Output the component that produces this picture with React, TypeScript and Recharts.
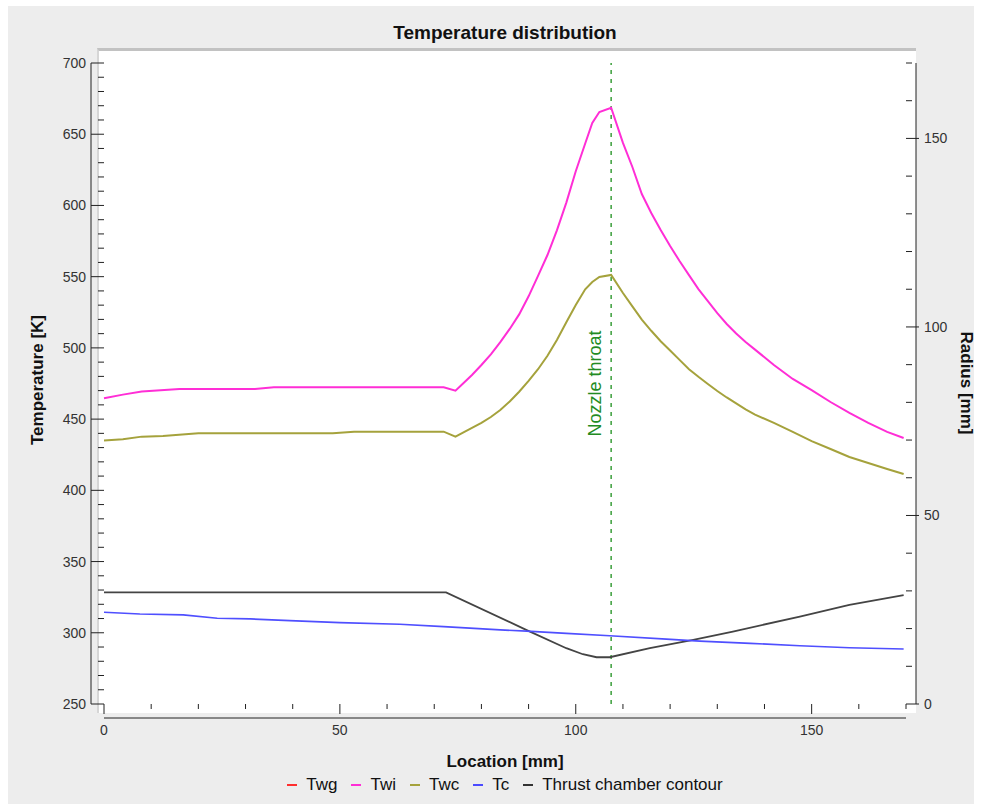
import React from 'react';
import { LineChart, Line, XAxis, YAxis, ReferenceLine } from 'recharts';

// wall temperatures on the left axis [K]
const twiX = [0, 4, 8, 16, 32, 36, 72, 74.5, 76, 78, 80, 82, 84, 86, 88, 90, 92, 94, 96, 98, 100, 102, 103.5, 105, 107.5, 110, 112, 114, 116, 118, 120, 122, 124, 126, 128, 130, 132, 134, 136, 138, 142, 146, 150, 154, 158, 162, 166, 169.5];
const twiT = [464.6, 467.2, 469.3, 471.1, 471.1, 472.3, 472.3, 470.0, 474.7, 481.0, 488.0, 495.5, 504.0, 513.3, 523.5, 536.2, 550.5, 565.2, 582.5, 602.0, 624.0, 643.5, 657.9, 665.6, 668.6, 643.9, 627.0, 608.0, 594.7, 582.8, 571.5, 561.0, 551.1, 541.3, 532.8, 524.4, 516.8, 510.1, 504.1, 498.8, 488.0, 478.2, 470.4, 462.0, 454.3, 447.3, 441.0, 436.7];

const twcX = [0, 4, 8, 12.5, 20, 48.5, 53, 72, 74.5, 76, 78, 80, 82, 84, 86, 88, 90, 92, 94, 96, 98, 100, 102, 103.5, 105, 107.5, 110, 112, 114, 116, 118, 120, 122, 124, 126, 128, 130, 132, 134, 136, 138, 142, 146, 150, 154, 158, 162, 166, 169.5];
const twcT = [434.9, 435.9, 437.7, 438.2, 440.0, 440.0, 441.2, 441.2, 437.7, 440.3, 443.8, 447.3, 451.5, 456.4, 462.4, 469.2, 476.9, 485.0, 494.5, 505.5, 518.0, 530.1, 541.1, 546.3, 549.8, 551.2, 538.5, 529.1, 519.9, 512.0, 504.7, 498.2, 491.6, 485.0, 479.7, 474.7, 469.7, 465.2, 461.0, 456.8, 453.2, 447.3, 441.0, 434.6, 429.0, 423.4, 419.2, 415.0, 411.5];

const tcX = [0, 7.6, 16.8, 24, 31, 39.4, 50, 62.7, 72, 84, 89.6, 98, 107.2, 119.2, 126.3, 137, 147.5, 158, 169.5];
const tcT = [314.4, 313.2, 312.5, 310.2, 309.7, 308.5, 307.1, 306.0, 304.3, 302.0, 301.2, 299.6, 297.9, 295.6, 294.2, 292.6, 290.9, 289.5, 288.6];

// thrust chamber contour on the right axis [mm]
const contourX = [0, 72.5, 89.6, 98, 101.5, 104.4, 107.2, 115.7, 124.9, 133.3, 147.5, 158, 169.5];
const contourR = [29.6, 29.6, 19.6, 14.8, 13.2, 12.4, 12.4, 14.8, 17.0, 19.2, 23.2, 26.3, 28.9];

const throatX = 107.5;

const tempTicks = [250, 260, 270, 280, 290, 300, 310, 320, 330, 340, 350, 360, 370, 380, 390, 400, 410, 420, 430, 440, 450, 460, 470, 480, 490, 500, 510, 520, 530, 540, 550, 560, 570, 580, 590, 600, 610, 620, 630, 640, 650, 660, 670, 680, 690, 700];
const radiusTicks = [0, 10, 20, 30, 40, 50, 60, 70, 80, 90, 100, 110, 120, 130, 140, 150, 160, 170];
const locTicks = [0, 10, 20, 30, 40, 50, 60, 70, 80, 90, 100, 110, 120, 130, 140, 150, 160, 170];

const legendItems = [
  { name: 'Twg', color: '#ff2e2e' },
  { name: 'Twi', color: '#ff2ed6' },
  { name: 'Twc', color: '#a5a23c' },
  { name: 'Tc', color: '#4b4bff' },
  { name: 'Thrust chamber contour', color: '#333333' },
];

const toPoints = (xs: number[], ys: number[]) => xs.map((x, i) => ({ x, v: ys[i] }));

const FONT = '"Liberation Sans", Arial, Helvetica, sans-serif';

const LeftTick = (p: any) => {
  const major = p.payload.value % 50 === 0;
  return (
    <g>
      <line x1={p.x} x2={p.x - (major ? 13 : 6)} y1={p.y} y2={p.y} stroke="#222" />
      {major && (
        <text x={p.x - 18} y={p.y + 5} textAnchor="end" fontSize={14} fill="#333" fontFamily={FONT}>
          {p.payload.value}
        </text>
      )}
    </g>
  );
};

const RightTick = (p: any) => {
  const major = p.payload.value % 50 === 0;
  return (
    <g>
      <line x1={p.x} x2={p.x + (major ? 13 : 6)} y1={p.y} y2={p.y} stroke="#222" />
      {major && (
        <text x={p.x + 18} y={p.y + 5} textAnchor="start" fontSize={14} fill="#333" fontFamily={FONT}>
          {p.payload.value}
        </text>
      )}
    </g>
  );
};

const BottomTick = (p: any) => {
  const major = p.payload.value % 50 === 0;
  return (
    <g>
      <line x1={p.x} x2={p.x} y1={p.y} y2={p.y + (major ? 10 : 5)} stroke="#222" />
      {major && (
        <text x={p.x} y={p.y + 31} textAnchor="middle" fontSize={14} fill="#333" fontFamily={FONT}>
          {p.payload.value}
        </text>
      )}
    </g>
  );
};

const ThroatLabel = (p: any) => {
  const vb = p.viewBox;
  const cx = vb.x - 10;
  const cy = vb.y + vb.height / 2;
  return (
    <text
      x={cx}
      y={cy}
      transform={`rotate(-90 ${cx} ${cy})`}
      textAnchor="middle"
      fontSize={18}
      fill="#228b22"
      fontFamily={FONT}
    >
      Nozzle throat
    </text>
  );
};

export default function App() {
  return (
    <div style={{ position: 'absolute', left: 0, top: 0, width: 982, height: 810, background: '#fff', fontFamily: FONT }}>
      <style>{`
        .ax-left { transform: translate(-13px, 0px); }
        .ax-right { transform: translate(10px, 0px); }
        .ax-bottom { transform: translate(0px, 14px); }
      `}</style>
      <div style={{ position: 'absolute', left: 8, top: 6, width: 966, height: 798, background: '#ededed' }} />
      <div
        style={{
          position: 'absolute',
          left: 97,
          top: 48,
          width: 817,
          height: 662,
          background: '#fff',
          borderTop: '3px solid #c2c2c2',
          borderLeft: '2px solid #d6d6d6',
        }}
      />
      <div
        style={{
          position: 'absolute',
          left: 0,
          top: 22,
          width: 1010,
          textAlign: 'center',
          fontWeight: 'bold',
          fontSize: 19,
          color: '#111',
        }}
      >
        Temperature distribution
      </div>
      <div style={{ position: 'absolute', left: 0, top: 0 }}>
        <LineChart width={982} height={810} margin={{ top: 63, left: 44, right: 26, bottom: 76 }}>
          <XAxis
            dataKey="x"
            type="number"
            domain={[0, 170]}
            ticks={locTicks}
            interval={0}
            height={30}
            className="ax-bottom"
            stroke="#222"
            tickSize={0}
            tickMargin={0}
            tickLine={false}
            tick={(p: any) => <BottomTick {...p} />}
          />
          <YAxis
            yAxisId="l"
            type="number"
            domain={[250, 700]}
            ticks={tempTicks}
            interval={0}
            width={60}
            className="ax-left"
            stroke="#222"
            tickSize={0}
            tickMargin={0}
            tickLine={false}
            tick={(p: any) => <LeftTick {...p} />}
          />
          <YAxis
            yAxisId="r"
            orientation="right"
            type="number"
            domain={[0, 170]}
            ticks={radiusTicks}
            interval={0}
            width={50}
            className="ax-right"
            stroke="#222"
            tickSize={0}
            tickMargin={0}
            tickLine={false}
            tick={(p: any) => <RightTick {...p} />}
          />
          <ReferenceLine
            yAxisId="l"
            x={throatX}
            stroke="#3a9f3a"
            strokeWidth={1.5}
            strokeDasharray="4 5"
            label={(p: any) => <ThroatLabel {...p} />}
          />
          <Line
            yAxisId="r"
            data={toPoints(contourX, contourR)}
            dataKey="v"
            type="linear"
            stroke="#444444"
            strokeWidth={1.8}
            dot={false}
            isAnimationActive={false}
          />
          <Line
            yAxisId="l"
            data={toPoints(tcX, tcT)}
            dataKey="v"
            type="linear"
            stroke="#4f4fff"
            strokeWidth={1.7}
            dot={false}
            isAnimationActive={false}
          />
          <Line
            yAxisId="l"
            data={toPoints(twcX, twcT)}
            dataKey="v"
            type="linear"
            stroke="#a5a23c"
            strokeWidth={2}
            dot={false}
            isAnimationActive={false}
          />
          <Line
            yAxisId="l"
            data={toPoints(twiX, twiT)}
            dataKey="v"
            type="linear"
            stroke="#ff2ed6"
            strokeWidth={2}
            dot={false}
            isAnimationActive={false}
          />
        </LineChart>
      </div>
      <div
        style={{
          position: 'absolute',
          left: 38,
          top: 380,
          transform: 'translate(-50%, -50%) rotate(-90deg)',
          fontWeight: 'bold',
          fontSize: 17,
          color: '#111',
          whiteSpace: 'nowrap',
        }}
      >
        Temperature [K]
      </div>
      <div
        style={{
          position: 'absolute',
          left: 966,
          top: 383,
          transform: 'translate(-50%, -50%) rotate(90deg)',
          fontWeight: 'bold',
          fontSize: 17,
          color: '#111',
          whiteSpace: 'nowrap',
        }}
      >
        Radius [mm]
      </div>
      <div
        style={{
          position: 'absolute',
          left: 0,
          top: 752,
          width: 1010,
          textAlign: 'center',
          fontWeight: 'bold',
          fontSize: 17,
          color: '#111',
        }}
      >
        Location [mm]
      </div>
      <div
        style={{
          position: 'absolute',
          left: 0,
          top: 775,
          width: 1010,
          display: 'flex',
          justifyContent: 'center',
          fontSize: 17,
          color: '#111',
        }}
      >
        {legendItems.map((it) => (
          <span key={it.name} style={{ display: 'inline-flex', alignItems: 'center', margin: '0 7px' }}>
            <span style={{ display: 'inline-block', width: 10, height: 2, background: it.color, marginRight: 9 }} />
            {it.name}
          </span>
        ))}
      </div>
    </div>
  );
}
